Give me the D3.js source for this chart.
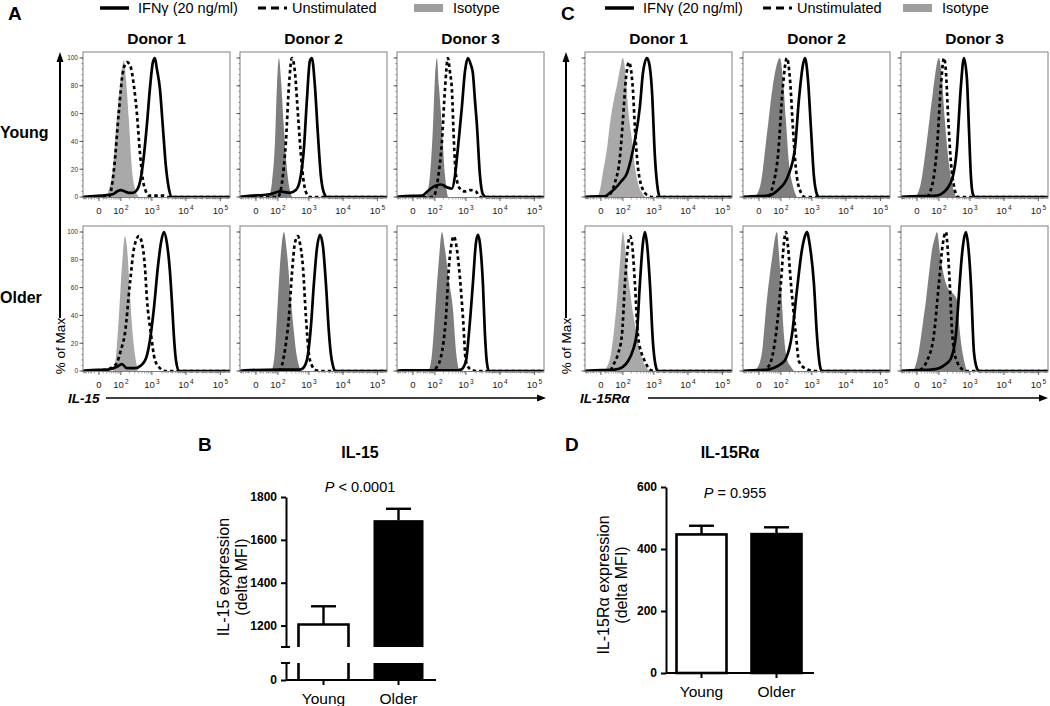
<!DOCTYPE html>
<html><head><meta charset="utf-8">
<script src="https://cdn.jsdelivr.net/npm/d3@7"></script>
<style>
body{margin:0;background:#fff;}
svg{font-family:"Liberation Sans",Arial,Helvetica,sans-serif;}
</style></head><body>
<svg id="chart" width="1050" height="706"></svg>
<script>
// ---------------- DATA ----------------
const donors = ["Donor 1", "Donor 2", "Donor 3"];
const ages = ["Young", "Older"];
const legendLabels = ["IFNγ (20 ng/ml)", "Unstimulated", "Isotype"];
const histXTicks = [0, 100, 1000, 10000, 100000];
const histYTicks = [0, 20, 40, 60, 80, 100];

// histogram order: Young D1, D2, D3, Older D1, D2, D3 ; points = [fluorescence, % of max]
const il15Iso = [
  [[21,0],[28,5],[46,20],[63,48],[92,80],[129,98],[152,85],[192,55],[242,20],[325,4],[403,0]],
  [[41,0],[57,10],[77,40],[92,80],[109,100],[129,85],[164,50],[208,20],[260,5],[302,0]],
  [[41,0],[63,15],[84,50],[100,85],[119,100],[140,80],[178,50],[224,16],[280,0]],
  [[46,0],[63,10],[84,40],[109,75],[140,97],[164,90],[208,55],[260,25],[325,7],[375,0]],
  [[57,0],[77,15],[100,51],[129,85],[164,100],[208,85],[280,51],[349,28],[403,15],[499,4],[575,0]],
  [[57,0],[77,12],[109,51],[140,80],[178,100],[224,88],[302,65],[403,45],[499,15],[617,0]]
];
const il15Unstim = [
  [[28,0],[52,20],[84,62],[119,90],[164,97],[208,95],[280,80],[349,60],[433,32],[536,12],[662,4],[815,1],[2120,1],[2972,0]],
  [[100,0],[140,10],[192,40],[242,80],[302,100],[375,90],[465,60],[575,30],[709,10],[873,2],[1073,0]],
  [[84,0],[100,2],[129,13],[178,40],[224,77],[280,100],[325,90],[375,77],[433,40],[499,16],[662,6],[935,4],[1411,5],[1981,4],[2597,0]],
  [[18,1],[46,3],[70,6],[100,15],[140,27],[208,63],[280,88],[403,97],[499,92],[617,75],[709,52],[935,27],[1231,8],[1730,2],[2428,0]],
  [[109,0],[140,4],[192,20],[242,39],[302,70],[375,92],[465,97],[536,92],[662,75],[815,39],[1002,12],[1231,4],[1510,1],[2120,0]],
  [[77,0],[109,2],[164,10],[242,39],[302,75],[375,93],[433,97],[499,92],[617,75],[815,39],[1002,7],[1411,1],[2120,0]]
];
const il15Ifn = [
  [[-21,0.5],[46,2],[70,4],[100,5],[140,4],[192,3],[260,3],[349,5],[465,14],[575,30],[709,52],[873,78],[1073,97],[1231,100],[1411,92],[1730,78],[2120,50],[2597,22],[3180,6],[3892,0]],
  [[-33,0.5],[46,2],[119,4],[260,3],[403,5],[536,12],[709,35],[873,70],[1073,98],[1231,100],[1510,80],[1852,45],[2269,15],[2779,3],[3400,0]],
  [[-33,0.5],[25,1],[57,5],[100,8],[164,9],[260,7],[375,6],[465,15],[536,28],[662,50],[760,65],[935,90],[1149,100],[1411,95],[1616,89],[1852,70],[2120,52],[2597,16],[3180,2],[3892,0]],
  [[-33,0.5],[25,1],[70,3],[109,5],[164,2],[302,2],[465,4],[662,9],[873,22],[1149,45],[1510,75],[1852,92],[2269,100],[2779,92],[3400,72],[3892,50],[4453,25],[5093,8],[6228,0]],
  [[-33,0.5],[119,1],[536,1],[662,2],[873,8],[1149,32],[1411,63],[1730,88],[2120,98],[2597,90],[3180,63],[3892,28],[4453,12],[5093,4],[5824,0]],
  [[-33,0.5],[536,0.5],[709,1],[1002,7],[1231,27],[1616,63],[1981,92],[2269,98],[2597,92],[3180,63],[3638,27],[4163,6],[4762,0]]
];
const il15raIso = [
  [[-9,0],[-2,5],[4,17],[15,35],[25,53],[41,70],[57,80],[77,92],[100,100],[129,85],[152,65],[208,41],[260,22],[325,10],[433,3],[536,0]],
  [[-9,0],[4,10],[21,45],[46,80],[92,100],[119,85],[152,55],[192,25],[260,8],[349,0]],
  [[-2,0],[9,10],[28,40],[57,75],[100,100],[129,85],[164,55],[208,30],[280,10],[375,0]],
  [[4,0],[15,3],[28,12],[41,28],[57,50],[77,78],[100,100],[119,90],[140,75],[178,58],[224,42],[280,30],[349,18],[433,9],[575,3],[760,0]],
  [[-15,0],[-4,2],[7,14],[21,51],[41,80],[70,100],[84,85],[100,63],[129,26],[164,9],[224,3],[280,0]],
  [[-7,0],[4,14],[15,35],[25,51],[37,70],[52,87],[70,96],[84,100],[119,80],[178,63],[260,57],[325,55],[403,51],[465,35],[536,21],[662,8],[815,0]]
];
const il15raUnstim = [
  [[15,0],[25,2],[46,10],[77,29],[100,55],[129,85],[164,97],[192,92],[224,77],[260,50],[302,29],[433,7],[662,1],[935,0]],
  [[25,0],[46,8],[77,30],[119,80],[164,100],[208,85],[260,50],[325,20],[433,5],[617,0]],
  [[25,0],[52,8],[84,35],[119,80],[152,100],[178,90],[208,60],[260,25],[325,8],[433,0]],
  [[25,0],[37,4],[63,12],[92,26],[119,63],[152,90],[178,97],[208,92],[260,63],[325,26],[433,12],[536,7],[760,1],[1073,0]],
  [[9,0],[21,2],[37,7],[63,26],[100,63],[129,92],[152,100],[178,90],[224,63],[325,26],[403,7],[617,2],[1231,0]],
  [[4,0],[9,1],[28,7],[63,26],[100,63],[140,92],[178,100],[208,85],[242,60],[280,30],[325,15],[403,7],[536,2],[760,0]]
];
const il15raIfn = [
  [[-33,0.3],[9,0.5],[25,3],[46,6],[84,11],[140,17],[192,27],[260,41],[375,65],[465,89],[617,100],[709,97],[873,77],[1073,29],[1318,5],[1510,0]],
  [[-33,0.3],[25,1],[77,5],[178,15],[302,35],[403,70],[536,95],[617,100],[760,85],[935,50],[1149,15],[1411,2],[1616,0]],
  [[-33,0.3],[77,1],[178,5],[302,15],[403,35],[536,80],[662,100],[815,85],[935,50],[1073,15],[1231,2],[1411,0]],
  [[-33,0.3],[46,1],[100,3],[152,7],[224,15],[302,28],[375,63],[465,92],[536,100],[617,92],[760,63],[935,21],[1149,3],[1318,0]],
  [[-33,0.3],[25,1],[46,2],[100,5],[152,9],[242,26],[349,58],[499,87],[617,97],[709,100],[873,90],[1149,63],[1411,26],[1730,4],[1981,0]],
  [[-33,0.3],[46,1],[100,2],[178,5],[260,9],[375,26],[465,55],[536,75],[617,90],[760,100],[873,92],[1073,63],[1318,14],[1616,2],[1852,0]]
];

const barGroups = ["Young", "Older"];
const il15Mean = [1205, 1692];
const il15Sem = [85, 53];
const il15UpperTicks = [1200, 1400, 1600, 1800];
const il15LowerTicks = [0];
const il15raMean = [447, 448];
const il15raSem = [28, 22];
const il15raTicks = [0, 200, 400, 600];

// ---------------- DRAWING ----------------
const svg = d3.select("#chart");
const FONT = '"Liberation Sans",Arial,sans-serif';
const boxW = 147;
const rowsCfg = [{y100: 58, y0: 197}, {y100: 232, y0: 371}];
const lightGrey = "#a9a9a9", darkGrey = "#7e7e7e";

function superLabel(sel, v) {
  if (v === 0) { sel.text("0"); return; }
  const e = Math.round(Math.log10(v));
  sel.append("tspan").text("10");
  sel.append("tspan").attr("dy", -4).attr("font-size", 6.5).text("\u2009" + e);
}

function drawHist(left, row, iso, uns, ifn, withYLabels, isoColor) {
  const rc = rowsCfg[row];
  const g = svg.append("g");
  const x = d3.scaleSymlog().constant(30).domain([-57, 190000]).range([left, left + boxW]);
  const y = d3.scaleLinear().domain([0, 100]).range([rc.y0, rc.y100]);
  const [xmin, xmax] = x.domain();

  g.append("path")
    .attr("d", d3.area().x(d => x(d[0])).y0(y(0)).y1(d => y(d[1])).curve(d3.curveMonotoneX)(iso))
    .attr("fill", isoColor);
  const line = d3.line().x(d => x(d[0])).y(d => y(d[1])).curve(d3.curveMonotoneX);
  g.append("path").attr("d", line([[xmin, 0], ...uns, [xmax, 0]]))
    .attr("fill", "none").attr("stroke", "#000").attr("stroke-width", 2.7)
    .attr("stroke-dasharray", "3.5,3");
  g.append("path").attr("d", line([[xmin, 0], ...ifn, [xmax, 0]]))
    .attr("fill", "none").attr("stroke", "#000").attr("stroke-width", 2.7);

  g.append("rect").attr("x", left).attr("y", rc.y100 - 6)
    .attr("width", boxW).attr("height", rc.y0 - rc.y100 + 6.5)
    .attr("fill", "none").attr("stroke", "#808080").attr("stroke-width", 1);

  const yMinor = d3.range(0, 101, 4);
  g.selectAll(".ym").data(yMinor).join("line")
    .attr("x1", left).attr("x2", left - 1.5).attr("y1", d => y(d)).attr("y2", d => y(d))
    .attr("stroke", "#666").attr("stroke-width", 0.7);
  g.selectAll(".yM").data(histYTicks).join("line")
    .attr("x1", left).attr("x2", left - 3.5).attr("y1", d => y(d)).attr("y2", d => y(d))
    .attr("stroke", "#444").attr("stroke-width", 0.9);
  if (withYLabels) {
    g.selectAll(".yl").data(histYTicks).join("text")
      .attr("x", left - 5).attr("y", d => y(d) + 2.3).attr("text-anchor", "end")
      .attr("font-size", 6.5).attr("fill", "#333").text(d => d);
  }
  const xMinor = [-50, -40, -30, -20, -10, 10, 20, 30, 40, 50, 60, 70, 80, 90]
    .concat(d3.range(200, 1000, 100), d3.range(2000, 10000, 1000), d3.range(20000, 100000, 10000));
  g.selectAll(".xm").data(xMinor).join("line")
    .attr("x1", d => x(d)).attr("x2", d => x(d)).attr("y1", rc.y0 + 0.5).attr("y2", rc.y0 + 2.5)
    .attr("stroke", "#666").attr("stroke-width", 0.6);
  g.selectAll(".xM").data(histXTicks).join("line")
    .attr("x1", d => x(d)).attr("x2", d => x(d)).attr("y1", rc.y0 + 0.5).attr("y2", rc.y0 + 4)
    .attr("stroke", "#444").attr("stroke-width", 0.9);
  g.selectAll(".xl").data(histXTicks).join("text")
    .attr("x", d => x(d)).attr("y", rc.y0 + 17).attr("text-anchor", "middle")
    .attr("font-size", 9.5).attr("fill", "#222")
    .each(function(d) { superLabel(d3.select(this), d); });
}

const colLeftA = [83, 240, 397];
const colLeftC = [585, 743, 901];
for (let r = 0; r < 2; r++) {
  for (let c = 0; c < 3; c++) {
    const i = r * 3 + c;
    drawHist(colLeftA[c], r, il15Iso[i], il15Unstim[i], il15Ifn[i], c === 0, c === 0 ? lightGrey : darkGrey);
    drawHist(colLeftC[c], r, il15raIso[i], il15raUnstim[i], il15raIfn[i], false, c === 0 ? lightGrey : darkGrey);
  }
}

[colLeftA, colLeftC].forEach(cols => {
  svg.selectAll(null).data(donors).join("text")
    .attr("x", (d, i) => cols[i] + boxW / 2).attr("y", 44)
    .attr("text-anchor", "middle").attr("font-size", 15.5).attr("font-weight", "bold").text(d => d);
});
svg.selectAll(null).data(ages).join("text")
  .attr("x", 0).attr("y", (d, i) => i === 0 ? 138 : 303)
  .attr("font-size", 16).attr("font-weight", "bold").text(d => d);

[["A", 8, 20], ["C", 561, 20], ["B", 198, 451], ["D", 565, 451]].forEach(([t, px, py]) => {
  svg.append("text").attr("x", px).attr("y", py).attr("font-size", 19).attr("font-weight", "bold").text(t);
});

function legend(x0, rectX) {
  const g = svg.append("g").attr("transform", `translate(${x0},0)`);
  g.append("line").attr("x1", 0).attr("x2", 29).attr("y1", 8).attr("y2", 8).attr("stroke", "#000").attr("stroke-width", 3.5);
  g.append("text").attr("x", 38).attr("y", 13).attr("font-size", 14.5).text(legendLabels[0]);
  g.append("line").attr("x1", 158).attr("x2", 187).attr("y1", 8).attr("y2", 8).attr("stroke", "#000").attr("stroke-width", 3.2).attr("stroke-dasharray", "8,5");
  g.append("text").attr("x", 192).attr("y", 13).attr("font-size", 14.5).text(legendLabels[1]);
  g.append("rect").attr("x", rectX).attr("y", 4).attr("width", 29).attr("height", 8).attr("fill", "#9f9f9f");
  g.append("text").attr("x", rectX + 39).attr("y", 13).attr("font-size", 14.5).text(legendLabels[2]);
}
legend(100, 314);
legend(605, 298);

function vArrow(xp) {
  svg.append("line").attr("x1", xp).attr("x2", xp).attr("y1", 318).attr("y2", 60).attr("stroke", "#000").attr("stroke-width", 2);
  svg.append("path").attr("d", `M${xp},52 L${xp - 3.5},62 L${xp + 3.5},62 Z`).attr("fill", "#000");
  svg.append("text").attr("transform", `translate(${xp + 5},346) rotate(-90)`)
    .attr("text-anchor", "middle").attr("font-size", 13.5).text("% of Max");
}
vArrow(60);
vArrow(566);
function hArrow(label, x0, x1, x2) {
  svg.append("text").attr("x", x0).attr("y", 403).attr("font-size", 13.5).attr("font-weight", "bold").attr("font-style", "italic").text(label);
  svg.append("line").attr("x1", x1).attr("x2", x2 - 6).attr("y1", 398).attr("y2", 398).attr("stroke", "#000").attr("stroke-width", 1.6);
  svg.append("path").attr("d", `M${x2},398 L${x2 - 9},394.5 L${x2 - 9},401.5 Z`).attr("fill", "#000");
}
hArrow("IL-15", 68, 106, 546);
hArrow("IL-15Rα", 580, 648, 1048);

// ---------- Panel B (broken axis) ----------
(function() {
  const g = svg.append("g");
  const axX = 286;
  const xb = d3.scaleBand().domain(barGroups).range([286, 436]).paddingInner(1 / 3).paddingOuter(1 / 6);
  const yUp = d3.scaleLinear().domain([1100, 1800]).range([647, 497]);
  const yLo = d3.scaleLinear().domain([0, 80]).range([680, 663]);
  const bw = xb.bandwidth();
  barGroups.forEach((k, i) => {
    const x0 = xb(k), x1 = x0 + bw;
    if (i === 0) {
      g.append("path").attr("d", `M${x0},${yUp(1100)} V${yUp(il15Mean[i])} H${x1} V${yUp(1100)}`)
        .attr("fill", "#fff").attr("stroke", "#000").attr("stroke-width", 2.6);
      g.append("path").attr("d", `M${x0},${yLo(0)} V${yLo(80)} M${x1},${yLo(80)} V${yLo(0)}`)
        .attr("fill", "none").attr("stroke", "#000").attr("stroke-width", 2.6);
    } else {
      g.append("rect").attr("x", x0).attr("width", bw).attr("y", yUp(il15Mean[i])).attr("height", yUp(1100) - yUp(il15Mean[i])).attr("fill", "#000");
      g.append("rect").attr("x", x0).attr("width", bw).attr("y", yLo(80)).attr("height", yLo(0) - yLo(80)).attr("fill", "#000");
    }
    const cx = x0 + bw / 2;
    const top = yUp(il15Mean[i] + il15Sem[i]);
    g.append("line").attr("x1", cx).attr("x2", cx).attr("y1", yUp(il15Mean[i])).attr("y2", top).attr("stroke", "#000").attr("stroke-width", 2.4);
    g.append("line").attr("x1", cx - 12.5).attr("x2", cx + 12.5).attr("y1", top).attr("y2", top).attr("stroke", "#000").attr("stroke-width", 2.4);
  });
  const fmt = d3.format("d");
  const ua = g.append("g").attr("transform", `translate(${axX},0)`).call(d3.axisLeft(yUp).tickValues(il15UpperTicks).tickFormat(fmt).tickSize(5).tickSizeOuter(0));
  const la = g.append("g").attr("transform", `translate(${axX},0)`).call(d3.axisLeft(yLo).tickValues(il15LowerTicks).tickFormat(fmt).tickSize(5).tickSizeOuter(0));
  [ua, la].forEach(a => {
    a.select(".domain").attr("stroke-width", 2);
    a.selectAll(".tick line").attr("stroke-width", 2);
    a.selectAll(".tick text").attr("font-size", 12).attr("font-weight", "bold").attr("font-family", FONT).attr("dx", -1);
  });
  [yUp(1100), yLo(80)].forEach(yy => {
    g.append("line").attr("x1", axX - 5).attr("x2", axX + 4).attr("y1", yy).attr("y2", yy).attr("stroke", "#000").attr("stroke-width", 2);
  });
  const xa = g.append("g").attr("transform", `translate(0,${yLo(0)})`).call(d3.axisBottom(xb).tickSize(5).tickSizeOuter(0));
  xa.select(".domain").attr("stroke-width", 2).attr("d", `M${axX},0H436`);
  xa.selectAll(".tick line").attr("stroke-width", 2);
  xa.selectAll(".tick text").attr("font-size", 15.5).attr("font-family", FONT).attr("dy", "1.05em");
  svg.append("text").attr("x", 360).attr("y", 458).attr("text-anchor", "middle").attr("font-size", 16).attr("font-weight", "bold").text("IL-15");
  const p = svg.append("text").attr("x", 360).attr("y", 492).attr("text-anchor", "middle").attr("font-size", 14.5);
  p.append("tspan").attr("font-style", "italic").text("P");
  p.append("tspan").text(" < 0.0001");
  const yl = svg.append("text").attr("transform", "translate(229,577) rotate(-90)").attr("text-anchor", "middle").attr("font-size", 16);
  yl.append("tspan").attr("x", 0).attr("dy", 0).text("IL-15 expression");
  yl.append("tspan").attr("x", 0).attr("dy", 18).text("(delta MFI)");
})();

// ---------- Panel D ----------
(function() {
  const g = svg.append("g");
  const axX = 666;
  const xb = d3.scaleBand().domain(barGroups).range([664, 814]).paddingInner(1 / 3).paddingOuter(1 / 6);
  const y = d3.scaleLinear().domain([0, 600]).range([673, 487]);
  const bw = xb.bandwidth();
  barGroups.forEach((k, i) => {
    const x0 = xb(k);
    g.append("rect").attr("x", x0).attr("width", bw).attr("y", y(il15raMean[i])).attr("height", y(0) - y(il15raMean[i]))
      .attr("fill", i === 0 ? "#fff" : "#000").attr("stroke", "#000").attr("stroke-width", 2.6);
    const cx = x0 + bw / 2, top = y(il15raMean[i] + il15raSem[i]);
    g.append("line").attr("x1", cx).attr("x2", cx).attr("y1", y(il15raMean[i])).attr("y2", top).attr("stroke", "#000").attr("stroke-width", 2.4);
    g.append("line").attr("x1", cx - 12.5).attr("x2", cx + 12.5).attr("y1", top).attr("y2", top).attr("stroke", "#000").attr("stroke-width", 2.4);
  });
  const ya = g.append("g").attr("transform", `translate(${axX},0)`).call(d3.axisLeft(y).tickValues(il15raTicks).tickFormat(d3.format("d")).tickSize(5).tickSizeOuter(0));
  ya.select(".domain").attr("stroke-width", 2);
  ya.selectAll(".tick line").attr("stroke-width", 2);
  ya.selectAll(".tick text").attr("font-size", 12).attr("font-weight", "bold").attr("font-family", FONT).attr("dx", -1);
  const xa = g.append("g").attr("transform", `translate(0,${y(0)})`).call(d3.axisBottom(xb).tickSize(5).tickSizeOuter(0));
  xa.select(".domain").attr("stroke-width", 2).attr("d", `M${axX},0H814`);
  xa.selectAll(".tick line").attr("stroke-width", 2);
  xa.selectAll(".tick text").attr("font-size", 15.5).attr("font-family", FONT).attr("dy", "1.05em");
  svg.append("text").attr("x", 730).attr("y", 458).attr("text-anchor", "middle").attr("font-size", 16).attr("font-weight", "bold").text("IL-15Rα");
  const p = svg.append("text").attr("x", 735).attr("y", 498).attr("text-anchor", "middle").attr("font-size", 14.5);
  p.append("tspan").attr("font-style", "italic").text("P");
  p.append("tspan").text(" = 0.955");
  const yl = svg.append("text").attr("transform", "translate(609,585) rotate(-90)").attr("text-anchor", "middle").attr("font-size", 16);
  yl.append("tspan").attr("x", 0).attr("dy", 0).text("IL-15Rα expression");
  yl.append("tspan").attr("x", 0).attr("dy", 18).text("(delta MFI)");
})();
</script>
</body></html>
